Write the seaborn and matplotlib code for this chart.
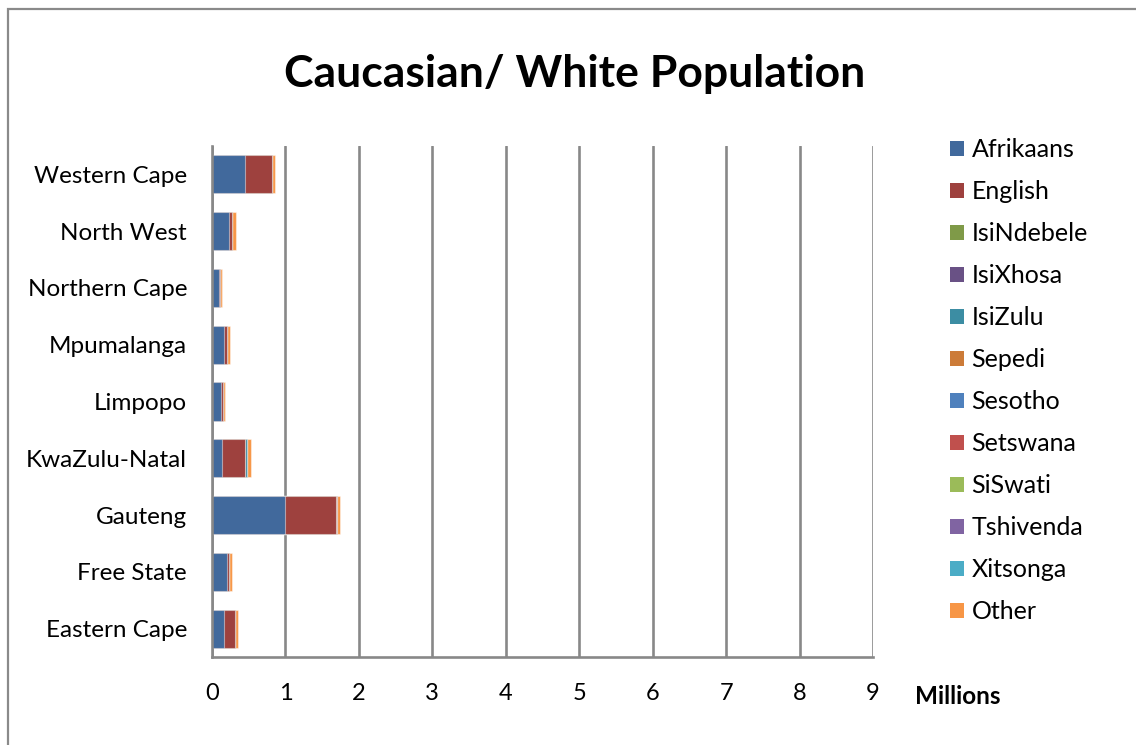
import numpy as np
import pandas as pd
import matplotlib
matplotlib.use("Agg")
import matplotlib.pyplot as plt
from matplotlib.patches import Patch, Rectangle
import seaborn as sns

provinces = ["Eastern Cape", "Free State", "Gauteng", "KwaZulu-Natal", "Limpopo",
             "Mpumalanga", "Northern Cape", "North West", "Western Cape"]

languages = ["Afrikaans", "English", "IsiNdebele", "IsiXhosa", "IsiZulu", "Sepedi",
             "Sesotho", "Setswana", "SiSwati", "Tshivenda", "Xitsonga", "Other"]

# White population by home language (millions), per province in the order above
afrikaans  = [0.165, 0.200, 1.000, 0.130, 0.125, 0.170, 0.095, 0.235, 0.450]
english    = [0.145, 0.030, 0.685, 0.320, 0.020, 0.035, 0.010, 0.035, 0.370]
isindebele = [0.000, 0.000, 0.001, 0.000, 0.000, 0.001, 0.000, 0.000, 0.000]
isixhosa   = [0.005, 0.000, 0.001, 0.001, 0.000, 0.000, 0.000, 0.000, 0.003]
isizulu    = [0.000, 0.000, 0.004, 0.030, 0.000, 0.001, 0.000, 0.000, 0.000]
sepedi     = [0.000, 0.000, 0.002, 0.000, 0.002, 0.001, 0.000, 0.000, 0.000]
sesotho    = [0.000, 0.005, 0.002, 0.000, 0.000, 0.000, 0.000, 0.000, 0.000]
setswana   = [0.000, 0.000, 0.002, 0.000, 0.000, 0.000, 0.000, 0.005, 0.000]
siswati    = [0.000, 0.000, 0.000, 0.000, 0.000, 0.002, 0.000, 0.000, 0.000]
tshivenda  = [0.000, 0.000, 0.000, 0.000, 0.001, 0.000, 0.000, 0.000, 0.000]
xitsonga   = [0.000, 0.000, 0.001, 0.000, 0.001, 0.000, 0.000, 0.000, 0.000]
other      = [0.035, 0.040, 0.040, 0.045, 0.025, 0.035, 0.025, 0.045, 0.030]

colors = ["#41699C", "#9E413E", "#7F9A48", "#695185", "#3C8DA3", "#CC7B38",
          "#4F81BD", "#C0504D", "#9BBB59", "#8064A2", "#4BACC6", "#F79646"]

xticks = list(range(0, 10))

series = [afrikaans, english, isindebele, isixhosa, isizulu, sepedi,
          sesotho, setswana, siswati, tshivenda, xitsonga, other]

df = pd.DataFrame({"Province": provinces})
for lang, vals in zip(languages, series):
    df[lang] = vals
cum = df[languages].cumsum(axis=1)
for lang in languages:
    df["cum_" + lang] = cum[lang]

sns.set_theme(style="white")
font = ["Lato", "DejaVu Sans"]
plt.rcParams["font.family"] = font
plt.rcParams["text.color"] = "black"
plt.rcParams["xtick.color"] = "black"
plt.rcParams["ytick.color"] = "black"

fig = plt.figure(figsize=(11.36, 7.45), dpi=100)
ax = fig.add_axes([212 / 1136, 1 - 657 / 745, 661 / 1136, 511 / 745])

order = provinces[::-1]
grid_c = "#888888"
for x in xticks:
    ax.axvline(x, color=grid_c, lw=1.9, zorder=0)

# stacked bars: draw cumulative totals from the outermost segment inwards
for lang, col in reversed(list(zip(languages, colors))):
    sns.barplot(data=df, x="cum_" + lang, y="Province", order=order, orient="h",
                color=col, saturation=1, width=0.67, errorbar=None,
                edgecolor=(1, 1, 1, 0.45), linewidth=0.8, ax=ax, zorder=2)

ax.set_xlim(0, 9)
ax.set_ylim(len(order) - 0.5, -0.5)
ax.set_xticks(xticks)
ax.set_xticklabels([str(t) for t in xticks], fontsize=17, color="black")
ax.tick_params(axis="x", length=0, pad=19)
ax.tick_params(axis="y", length=0, pad=18, labelsize=17.5, labelcolor="black")
ax.set_xlabel("")
ax.set_ylabel("")
for s in ["top", "right"]:
    ax.spines[s].set_visible(False)
for s in ["left", "bottom"]:
    ax.spines[s].set_color(grid_c)
    ax.spines[s].set_linewidth(1.9)
    ax.spines[s].set_zorder(3)

fig.text(575 / 1136, 1 - 74 / 745, "Caucasian/ White Population", ha="center",
         va="center", fontsize=32, fontweight="bold", family=font, color="black")
fig.text(958 / 1136, 1 - 697 / 745, "Millions", ha="center", va="center",
         fontsize=17.5, fontweight="bold", family=font, color="black")

handles = [Patch(facecolor=c, edgecolor="none", label=l) for l, c in zip(languages, colors)]
fig.legend(handles=handles, loc="upper left", bbox_to_anchor=(940 / 1136, 1 - 128 / 745),
           frameon=False, fontsize=18, handlelength=0.56, handleheight=0.56,
           handletextpad=0.3, labelspacing=0.76, borderaxespad=0)

fig.patches.append(Rectangle((8 / 1136, -0.2), 1.2, 1.2 - 9 / 745,
                             transform=fig.transFigure, fill=False,
                             edgecolor="#8a8a8a", lw=1.6, clip_on=False))

fig.savefig("out.png", dpi=100, facecolor="white")
